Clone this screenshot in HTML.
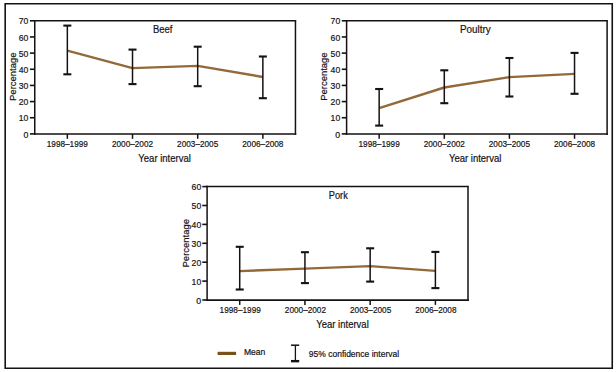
<!DOCTYPE html>
<html><head><meta charset="utf-8"><style>
html,body{margin:0;padding:0;background:#fff;width:616px;height:372px;overflow:hidden}
svg{display:block}
text{font-family:"Liberation Sans",sans-serif;fill:#161113;stroke:#161113;stroke-width:0.2px}
.tk{font-size:9.8px}
.xl{font-size:9.2px}
.at{font-size:10.5px}
.pc{font-size:9.6px}
.ti{font-size:10.5px}
.lg{font-size:9.4px}
.lg2{font-size:9px}
</style></head><body>
<svg width="616" height="372" viewBox="0 0 616 372">
<rect x="0" y="0" width="616" height="372" fill="#fff"/>
<path d="M4.4 3.75H613 M5.2 3V369 M612.25 3V369 M4.4 368.25H613" fill="none" stroke="#161113" stroke-width="1.6"/>
<polyline points="67.34,50.70 132.51,68.10 197.69,65.90 262.86,77.00" fill="none" stroke="#93693a" stroke-width="2.4" stroke-linejoin="round"/>
<line x1="67.34" y1="25.60" x2="67.34" y2="74.30" stroke="#161113" stroke-width="1.5"/>
<line x1="63.34" y1="25.60" x2="71.34" y2="25.60" stroke="#161113" stroke-width="2.1"/>
<line x1="63.34" y1="74.30" x2="71.34" y2="74.30" stroke="#161113" stroke-width="2.1"/>
<line x1="132.51" y1="49.60" x2="132.51" y2="84.10" stroke="#161113" stroke-width="1.5"/>
<line x1="128.51" y1="49.60" x2="136.51" y2="49.60" stroke="#161113" stroke-width="2.1"/>
<line x1="128.51" y1="84.10" x2="136.51" y2="84.10" stroke="#161113" stroke-width="2.1"/>
<line x1="197.69" y1="46.70" x2="197.69" y2="86.20" stroke="#161113" stroke-width="1.5"/>
<line x1="193.69" y1="46.70" x2="201.69" y2="46.70" stroke="#161113" stroke-width="2.1"/>
<line x1="193.69" y1="86.20" x2="201.69" y2="86.20" stroke="#161113" stroke-width="2.1"/>
<line x1="262.86" y1="56.50" x2="262.86" y2="98.20" stroke="#161113" stroke-width="1.5"/>
<line x1="258.86" y1="56.50" x2="266.86" y2="56.50" stroke="#161113" stroke-width="2.1"/>
<line x1="258.86" y1="98.20" x2="266.86" y2="98.20" stroke="#161113" stroke-width="2.1"/>
<line x1="33.95" y1="20.80" x2="296.20" y2="20.80" stroke="#161113" stroke-width="1.5"/>
<line x1="295.45" y1="20.80" x2="295.45" y2="134.90" stroke="#161113" stroke-width="1.5"/>
<line x1="34.75" y1="20.05" x2="34.75" y2="134.90" stroke="#161113" stroke-width="1.5"/>
<line x1="33.95" y1="134.00" x2="296.20" y2="134.00" stroke="#161113" stroke-width="1.7"/>
<line x1="29.95" y1="133.90" x2="34.75" y2="133.90" stroke="#161113" stroke-width="1.6"/>
<text x="28.40" y="137.50" text-anchor="end" class="tk" textLength="4.9" lengthAdjust="spacingAndGlyphs">0</text>
<line x1="29.95" y1="117.74" x2="34.75" y2="117.74" stroke="#161113" stroke-width="1.6"/>
<text x="28.40" y="121.34" text-anchor="end" class="tk" textLength="9.6" lengthAdjust="spacingAndGlyphs">10</text>
<line x1="29.95" y1="101.59" x2="34.75" y2="101.59" stroke="#161113" stroke-width="1.6"/>
<text x="28.40" y="105.19" text-anchor="end" class="tk" textLength="9.6" lengthAdjust="spacingAndGlyphs">20</text>
<line x1="29.95" y1="85.43" x2="34.75" y2="85.43" stroke="#161113" stroke-width="1.6"/>
<text x="28.40" y="89.03" text-anchor="end" class="tk" textLength="9.6" lengthAdjust="spacingAndGlyphs">30</text>
<line x1="29.95" y1="69.27" x2="34.75" y2="69.27" stroke="#161113" stroke-width="1.6"/>
<text x="28.40" y="72.87" text-anchor="end" class="tk" textLength="9.6" lengthAdjust="spacingAndGlyphs">40</text>
<line x1="29.95" y1="53.11" x2="34.75" y2="53.11" stroke="#161113" stroke-width="1.6"/>
<text x="28.40" y="56.71" text-anchor="end" class="tk" textLength="9.6" lengthAdjust="spacingAndGlyphs">50</text>
<line x1="29.95" y1="36.96" x2="34.75" y2="36.96" stroke="#161113" stroke-width="1.6"/>
<text x="28.40" y="40.56" text-anchor="end" class="tk" textLength="9.6" lengthAdjust="spacingAndGlyphs">60</text>
<line x1="29.95" y1="20.80" x2="34.75" y2="20.80" stroke="#161113" stroke-width="1.6"/>
<text x="28.40" y="24.40" text-anchor="end" class="tk" textLength="9.6" lengthAdjust="spacingAndGlyphs">70</text>
<line x1="67.34" y1="133.90" x2="67.34" y2="138.80" stroke="#161113" stroke-width="1.5"/>
<text x="67.34" y="147.00" text-anchor="middle" class="xl" textLength="41.2" lengthAdjust="spacingAndGlyphs">1998–1999</text>
<line x1="132.51" y1="133.90" x2="132.51" y2="138.80" stroke="#161113" stroke-width="1.5"/>
<text x="132.51" y="147.00" text-anchor="middle" class="xl" textLength="41.2" lengthAdjust="spacingAndGlyphs">2000–2002</text>
<line x1="197.69" y1="133.90" x2="197.69" y2="138.80" stroke="#161113" stroke-width="1.5"/>
<text x="197.69" y="147.00" text-anchor="middle" class="xl" textLength="41.2" lengthAdjust="spacingAndGlyphs">2003–2005</text>
<line x1="262.86" y1="133.90" x2="262.86" y2="138.80" stroke="#161113" stroke-width="1.5"/>
<text x="262.86" y="147.00" text-anchor="middle" class="xl" textLength="41.2" lengthAdjust="spacingAndGlyphs">2006–2008</text>
<text x="164.60" y="161.60" text-anchor="middle" class="at" textLength="52.5" lengthAdjust="spacingAndGlyphs">Year interval</text>
<text transform="translate(16.20,76.75) rotate(-90)" text-anchor="middle" class="pc" textLength="48.4" lengthAdjust="spacingAndGlyphs">Percentage</text>
<text x="162.75" y="32.80" text-anchor="middle" class="ti" textLength="19.5" lengthAdjust="spacingAndGlyphs">Beef</text>
<polyline points="379.16,108.20 444.29,87.50 509.41,77.10 574.54,73.90" fill="none" stroke="#93693a" stroke-width="2.4" stroke-linejoin="round"/>
<line x1="379.16" y1="89.00" x2="379.16" y2="125.60" stroke="#161113" stroke-width="1.5"/>
<line x1="375.16" y1="89.00" x2="383.16" y2="89.00" stroke="#161113" stroke-width="2.1"/>
<line x1="375.16" y1="125.60" x2="383.16" y2="125.60" stroke="#161113" stroke-width="2.1"/>
<line x1="444.29" y1="70.30" x2="444.29" y2="103.20" stroke="#161113" stroke-width="1.5"/>
<line x1="440.29" y1="70.30" x2="448.29" y2="70.30" stroke="#161113" stroke-width="2.1"/>
<line x1="440.29" y1="103.20" x2="448.29" y2="103.20" stroke="#161113" stroke-width="2.1"/>
<line x1="509.41" y1="58.00" x2="509.41" y2="96.50" stroke="#161113" stroke-width="1.5"/>
<line x1="505.41" y1="58.00" x2="513.41" y2="58.00" stroke="#161113" stroke-width="2.1"/>
<line x1="505.41" y1="96.50" x2="513.41" y2="96.50" stroke="#161113" stroke-width="2.1"/>
<line x1="574.54" y1="52.90" x2="574.54" y2="93.80" stroke="#161113" stroke-width="1.5"/>
<line x1="570.54" y1="52.90" x2="578.54" y2="52.90" stroke="#161113" stroke-width="2.1"/>
<line x1="570.54" y1="93.80" x2="578.54" y2="93.80" stroke="#161113" stroke-width="2.1"/>
<line x1="345.80" y1="20.80" x2="607.85" y2="20.80" stroke="#161113" stroke-width="1.5"/>
<line x1="607.10" y1="20.80" x2="607.10" y2="134.90" stroke="#161113" stroke-width="1.5"/>
<line x1="346.60" y1="20.05" x2="346.60" y2="134.90" stroke="#161113" stroke-width="1.5"/>
<line x1="345.80" y1="134.00" x2="607.85" y2="134.00" stroke="#161113" stroke-width="1.7"/>
<line x1="341.80" y1="133.90" x2="346.60" y2="133.90" stroke="#161113" stroke-width="1.6"/>
<text x="340.20" y="137.50" text-anchor="end" class="tk" textLength="4.9" lengthAdjust="spacingAndGlyphs">0</text>
<line x1="341.80" y1="117.74" x2="346.60" y2="117.74" stroke="#161113" stroke-width="1.6"/>
<text x="340.20" y="121.34" text-anchor="end" class="tk" textLength="9.6" lengthAdjust="spacingAndGlyphs">10</text>
<line x1="341.80" y1="101.59" x2="346.60" y2="101.59" stroke="#161113" stroke-width="1.6"/>
<text x="340.20" y="105.19" text-anchor="end" class="tk" textLength="9.6" lengthAdjust="spacingAndGlyphs">20</text>
<line x1="341.80" y1="85.43" x2="346.60" y2="85.43" stroke="#161113" stroke-width="1.6"/>
<text x="340.20" y="89.03" text-anchor="end" class="tk" textLength="9.6" lengthAdjust="spacingAndGlyphs">30</text>
<line x1="341.80" y1="69.27" x2="346.60" y2="69.27" stroke="#161113" stroke-width="1.6"/>
<text x="340.20" y="72.87" text-anchor="end" class="tk" textLength="9.6" lengthAdjust="spacingAndGlyphs">40</text>
<line x1="341.80" y1="53.11" x2="346.60" y2="53.11" stroke="#161113" stroke-width="1.6"/>
<text x="340.20" y="56.71" text-anchor="end" class="tk" textLength="9.6" lengthAdjust="spacingAndGlyphs">50</text>
<line x1="341.80" y1="36.96" x2="346.60" y2="36.96" stroke="#161113" stroke-width="1.6"/>
<text x="340.20" y="40.56" text-anchor="end" class="tk" textLength="9.6" lengthAdjust="spacingAndGlyphs">60</text>
<line x1="341.80" y1="20.80" x2="346.60" y2="20.80" stroke="#161113" stroke-width="1.6"/>
<text x="340.20" y="24.40" text-anchor="end" class="tk" textLength="9.6" lengthAdjust="spacingAndGlyphs">70</text>
<line x1="379.16" y1="133.90" x2="379.16" y2="138.80" stroke="#161113" stroke-width="1.5"/>
<text x="379.16" y="147.00" text-anchor="middle" class="xl" textLength="41.2" lengthAdjust="spacingAndGlyphs">1998–1999</text>
<line x1="444.29" y1="133.90" x2="444.29" y2="138.80" stroke="#161113" stroke-width="1.5"/>
<text x="444.29" y="147.00" text-anchor="middle" class="xl" textLength="41.2" lengthAdjust="spacingAndGlyphs">2000–2002</text>
<line x1="509.41" y1="133.90" x2="509.41" y2="138.80" stroke="#161113" stroke-width="1.5"/>
<text x="509.41" y="147.00" text-anchor="middle" class="xl" textLength="41.2" lengthAdjust="spacingAndGlyphs">2003–2005</text>
<line x1="574.54" y1="133.90" x2="574.54" y2="138.80" stroke="#161113" stroke-width="1.5"/>
<text x="574.54" y="147.00" text-anchor="middle" class="xl" textLength="41.2" lengthAdjust="spacingAndGlyphs">2006–2008</text>
<text x="475.20" y="161.60" text-anchor="middle" class="at" textLength="52.5" lengthAdjust="spacingAndGlyphs">Year interval</text>
<text transform="translate(327.10,76.60) rotate(-90)" text-anchor="middle" class="pc" textLength="48.4" lengthAdjust="spacingAndGlyphs">Percentage</text>
<text x="475.30" y="32.80" text-anchor="middle" class="ti" textLength="30.7" lengthAdjust="spacingAndGlyphs">Poultry</text>
<polyline points="239.71,271.10 304.94,268.60 370.16,266.10 435.39,270.90" fill="none" stroke="#93693a" stroke-width="2.4" stroke-linejoin="round"/>
<line x1="239.71" y1="246.80" x2="239.71" y2="289.50" stroke="#161113" stroke-width="1.5"/>
<line x1="235.71" y1="246.80" x2="243.71" y2="246.80" stroke="#161113" stroke-width="2.1"/>
<line x1="235.71" y1="289.50" x2="243.71" y2="289.50" stroke="#161113" stroke-width="2.1"/>
<line x1="304.94" y1="252.20" x2="304.94" y2="283.10" stroke="#161113" stroke-width="1.5"/>
<line x1="300.94" y1="252.20" x2="308.94" y2="252.20" stroke="#161113" stroke-width="2.1"/>
<line x1="300.94" y1="283.10" x2="308.94" y2="283.10" stroke="#161113" stroke-width="2.1"/>
<line x1="370.16" y1="248.30" x2="370.16" y2="281.60" stroke="#161113" stroke-width="1.5"/>
<line x1="366.16" y1="248.30" x2="374.16" y2="248.30" stroke="#161113" stroke-width="2.1"/>
<line x1="366.16" y1="281.60" x2="374.16" y2="281.60" stroke="#161113" stroke-width="2.1"/>
<line x1="435.39" y1="251.90" x2="435.39" y2="288.10" stroke="#161113" stroke-width="1.5"/>
<line x1="431.39" y1="251.90" x2="439.39" y2="251.90" stroke="#161113" stroke-width="2.1"/>
<line x1="431.39" y1="288.10" x2="439.39" y2="288.10" stroke="#161113" stroke-width="2.1"/>
<line x1="206.30" y1="186.60" x2="468.75" y2="186.60" stroke="#161113" stroke-width="1.5"/>
<line x1="468.00" y1="186.60" x2="468.00" y2="301.00" stroke="#161113" stroke-width="1.5"/>
<line x1="207.10" y1="185.85" x2="207.10" y2="301.00" stroke="#161113" stroke-width="1.5"/>
<line x1="206.30" y1="300.10" x2="468.75" y2="300.10" stroke="#161113" stroke-width="1.7"/>
<line x1="202.30" y1="300.00" x2="207.10" y2="300.00" stroke="#161113" stroke-width="1.6"/>
<text x="201.20" y="303.60" text-anchor="end" class="tk" textLength="4.9" lengthAdjust="spacingAndGlyphs">0</text>
<line x1="202.30" y1="281.10" x2="207.10" y2="281.10" stroke="#161113" stroke-width="1.6"/>
<text x="201.20" y="284.70" text-anchor="end" class="tk" textLength="9.6" lengthAdjust="spacingAndGlyphs">10</text>
<line x1="202.30" y1="262.20" x2="207.10" y2="262.20" stroke="#161113" stroke-width="1.6"/>
<text x="201.20" y="265.80" text-anchor="end" class="tk" textLength="9.6" lengthAdjust="spacingAndGlyphs">20</text>
<line x1="202.30" y1="243.30" x2="207.10" y2="243.30" stroke="#161113" stroke-width="1.6"/>
<text x="201.20" y="246.90" text-anchor="end" class="tk" textLength="9.6" lengthAdjust="spacingAndGlyphs">30</text>
<line x1="202.30" y1="224.40" x2="207.10" y2="224.40" stroke="#161113" stroke-width="1.6"/>
<text x="201.20" y="228.00" text-anchor="end" class="tk" textLength="9.6" lengthAdjust="spacingAndGlyphs">40</text>
<line x1="202.30" y1="205.50" x2="207.10" y2="205.50" stroke="#161113" stroke-width="1.6"/>
<text x="201.20" y="209.10" text-anchor="end" class="tk" textLength="9.6" lengthAdjust="spacingAndGlyphs">50</text>
<line x1="202.30" y1="186.60" x2="207.10" y2="186.60" stroke="#161113" stroke-width="1.6"/>
<text x="201.20" y="190.20" text-anchor="end" class="tk" textLength="9.6" lengthAdjust="spacingAndGlyphs">60</text>
<line x1="239.71" y1="300.00" x2="239.71" y2="304.90" stroke="#161113" stroke-width="1.5"/>
<text x="240.21" y="313.20" text-anchor="middle" class="xl" textLength="41.2" lengthAdjust="spacingAndGlyphs">1998–1999</text>
<line x1="304.94" y1="300.00" x2="304.94" y2="304.90" stroke="#161113" stroke-width="1.5"/>
<text x="305.44" y="313.20" text-anchor="middle" class="xl" textLength="41.2" lengthAdjust="spacingAndGlyphs">2000–2002</text>
<line x1="370.16" y1="300.00" x2="370.16" y2="304.90" stroke="#161113" stroke-width="1.5"/>
<text x="370.66" y="313.20" text-anchor="middle" class="xl" textLength="41.2" lengthAdjust="spacingAndGlyphs">2003–2005</text>
<line x1="435.39" y1="300.00" x2="435.39" y2="304.90" stroke="#161113" stroke-width="1.5"/>
<text x="435.89" y="313.20" text-anchor="middle" class="xl" textLength="41.2" lengthAdjust="spacingAndGlyphs">2006–2008</text>
<text x="342.50" y="327.80" text-anchor="middle" class="at" textLength="52.5" lengthAdjust="spacingAndGlyphs">Year interval</text>
<text transform="translate(188.70,243.25) rotate(-90)" text-anchor="middle" class="pc" textLength="48.4" lengthAdjust="spacingAndGlyphs">Percentage</text>
<text x="338.30" y="199.00" text-anchor="middle" class="ti" textLength="19" lengthAdjust="spacingAndGlyphs">Pork</text>

<line x1="217.6" y1="353.4" x2="236.1" y2="353.4" stroke="#7a5119" stroke-width="3.2"/>
<text x="243.9" y="355" class="lg" textLength="21.4" lengthAdjust="spacingAndGlyphs">Mean</text>
<line x1="295.4" y1="345.2" x2="295.4" y2="361" stroke="#161113" stroke-width="1.3"/>
<line x1="291" y1="345.2" x2="299.2" y2="345.2" stroke="#161113" stroke-width="1.5"/>
<line x1="291" y1="361.15" x2="299.2" y2="361.15" stroke="#161113" stroke-width="2.4"/>
<text x="308.8" y="357.4" class="lg2" textLength="90.3" lengthAdjust="spacingAndGlyphs">95% confidence interval</text>

</svg>
</body></html>
